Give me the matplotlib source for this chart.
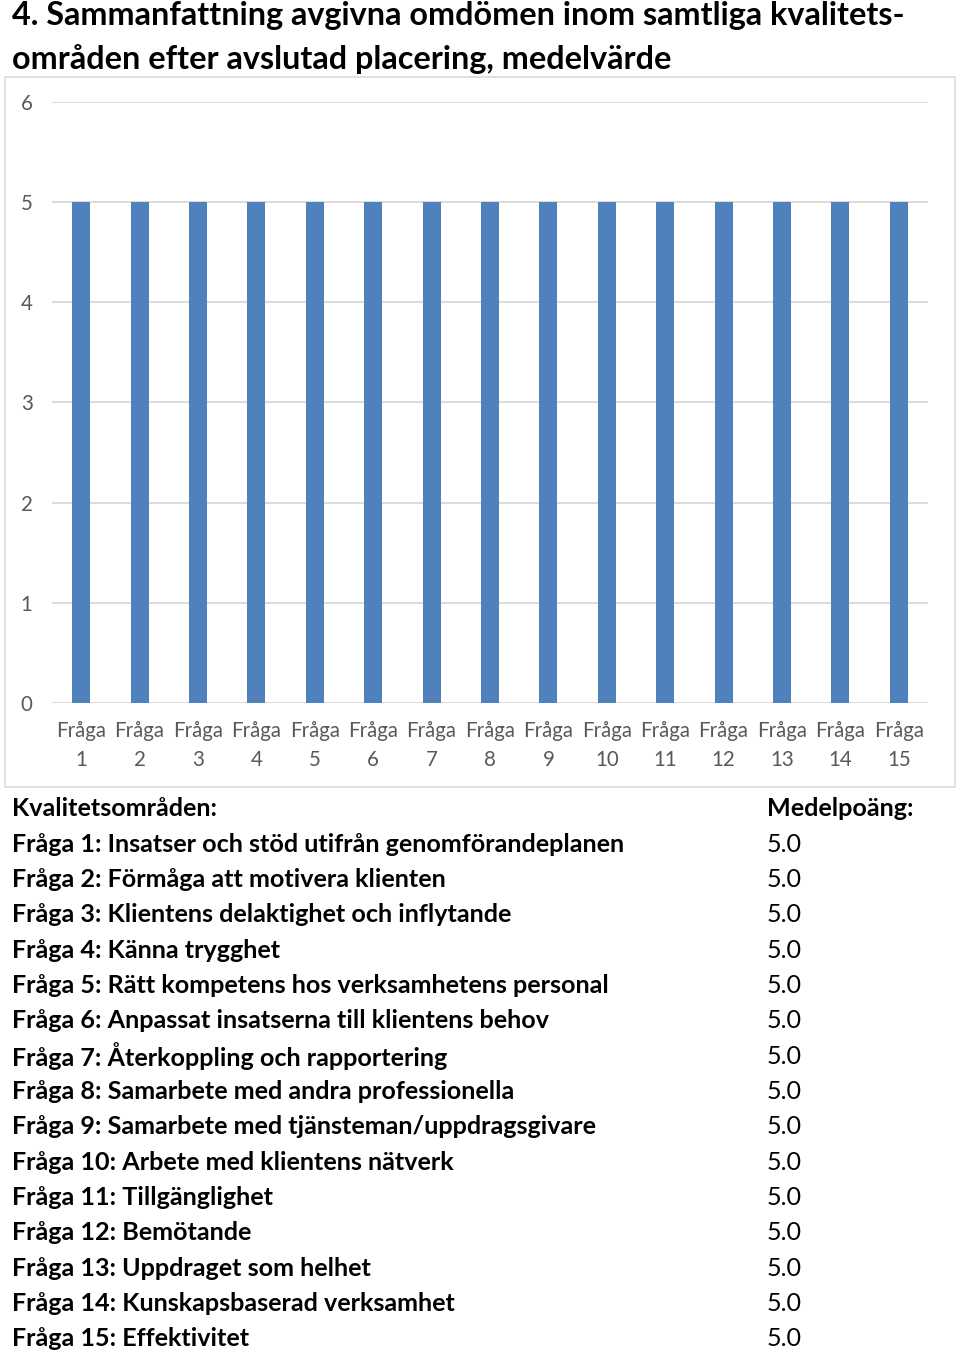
import matplotlib
matplotlib.use("Agg")
import matplotlib.pyplot as plt
from matplotlib.patches import Rectangle

plt.rcParams['font.family'] = ['Lato', 'DejaVu Sans']

categories = [f"Fråga\n{i}" for i in range(1, 16)]
values = [5.0, 5.0, 5.0, 5.0, 5.0, 5.0, 5.0, 5.0, 5.0, 5.0, 5.0, 5.0, 5.0, 5.0, 5.0]
yticks = [0, 1, 2, 3, 4, 5, 6]
title_lines = ["4. Sammanfattning avgivna omdömen inom samtliga kvalitets-",
               "områden efter avslutad placering, medelvärde"]
area_names = [
    "Fråga 1: Insatser och stöd utifrån genomförandeplanen",
    "Fråga 2: Förmåga att motivera klienten",
    "Fråga 3: Klientens delaktighet och inflytande",
    "Fråga 4: Känna trygghet",
    "Fråga 5: Rätt kompetens hos verksamhetens personal",
    "Fråga 6: Anpassat insatserna till klientens behov",
    "Fråga 7: Återkoppling och rapportering",
    "Fråga 8: Samarbete med andra professionella",
    "Fråga 9: Samarbete med tjänsteman/uppdragsgivare",
    "Fråga 10: Arbete med klientens nätverk",
    "Fråga 11: Tillgänglighet",
    "Fråga 12: Bemötande",
    "Fråga 13: Uppdraget som helhet",
    "Fråga 14: Kunskapsbaserad verksamhet",
    "Fråga 15: Effektivitet",
]
area_scores = [5.0, 5.0, 5.0, 5.0, 5.0, 5.0, 5.0, 5.0, 5.0, 5.0, 5.0, 5.0, 5.0, 5.0, 5.0]

W, H = 960, 1353
fig = plt.figure(figsize=(W / 100, H / 100), dpi=100)

def fx(px):
    return px / W

def fy(py):
    return 1 - py / H

# chart box
fig.patches.append(Rectangle((fx(5), fy(787)), fx(955) - fx(5), fy(77) - fy(787),
                             transform=fig.transFigure, fill=False,
                             edgecolor='#d9d9d9', linewidth=1.2))

ax = fig.add_axes([fx(52), fy(703), fx(928) - fx(52), fy(102) - fy(703)])
x = list(range(len(categories)))
ax.bar(x, values, width=0.31, color='#4F81BD', zorder=3)
ax.set_xlim(-0.5, len(categories) - 0.5)
ax.set_ylim(0, 6)
ax.set_yticks(yticks)
ax.set_yticklabels([str(t) for t in yticks])
ax.set_xticks(x)
ax.set_xticklabels(categories, linespacing=1.55)
for s in ax.spines.values():
    s.set_visible(False)
ax.grid(axis='y', color='#d9d9d9', linewidth=1.3, zorder=0)
ax.tick_params(axis='both', length=0, colors='#595959', labelsize=14.8)
ax.tick_params(axis='y', pad=14)
ax.tick_params(axis='x', pad=13)

# title
for i, line in enumerate(title_lines):
    fig.text(fx(12), fy(16 + 43 * i), line, fontsize=23.3, fontweight='bold',
             color='black', va='center', ha='left')

# table
fs = 18.1
fig.text(fx(12), fy(808), "Kvalitetsområden:", fontsize=fs, fontweight='bold',
         va='center', ha='left')
fig.text(fx(767), fy(808), "Medelpoäng:", fontsize=fs, fontweight='bold',
         va='center', ha='left')
step = (1338 - 843) / 14
for i, (name, sc) in enumerate(zip(area_names, area_scores)):
    y = 844 + step * i
    fig.text(fx(12), fy(y), name, fontsize=fs, fontweight='bold',
             va='center', ha='left')
    fig.text(fx(767), fy(y), f"{sc:.1f}", fontsize=fs,
             va='center', ha='left')

fig.savefig("out.png", dpi=100)
